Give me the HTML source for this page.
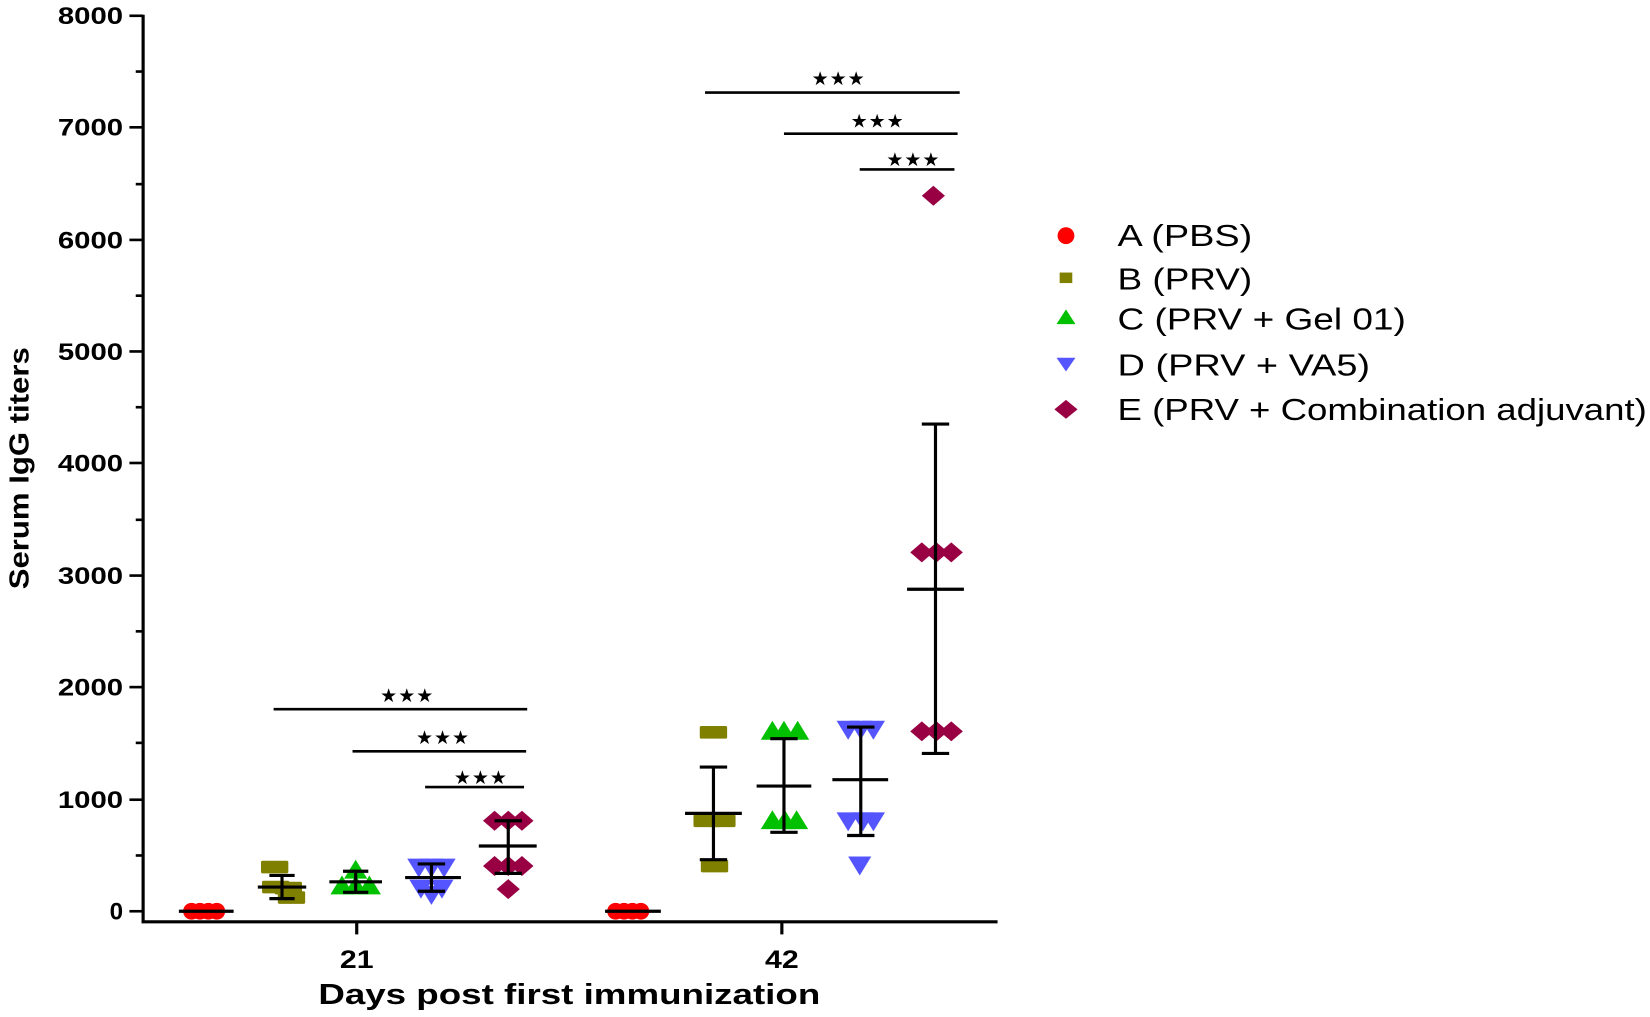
<!DOCTYPE html>
<html><head><meta charset="utf-8"><style>html,body{margin:0;padding:0;background:#fff}svg{display:block}</style></head>
<body>
<svg width="1650" height="1017" viewBox="0 0 1568 966.5" preserveAspectRatio="none" xmlns="http://www.w3.org/2000/svg" font-family="Liberation Sans, Arial, sans-serif">
<defs>
<circle id="ci" r="8" fill="#ff0000"/>
<rect id="sq" x="-13" y="-6" width="26" height="12" rx="1.5" fill="#808000"/>
<polygon id="tu" points="0,-10 11,8 -11,8" fill="#00c000"/>
<polygon id="td" points="0,10 11,-8 -11,-8" fill="#5555ff"/>
<polygon id="di" points="0,-9.5 11,0 0,9.5 -11,0" fill="#990044"/>
</defs>
<g stroke="#000" stroke-width="3" fill="none">
<line x1="136" y1="14" x2="136" y2="877"/>
<line x1="134.5" y1="876" x2="948" y2="876"/>
<line x1="339" y1="876" x2="339" y2="888"/>
<line x1="743" y1="876" x2="743" y2="888"/>
</g>
<g stroke="#000" stroke-width="2.5">
<line x1="123" y1="866" x2="136" y2="866"/><line x1="123" y1="760" x2="136" y2="760"/>
<line x1="123" y1="653" x2="136" y2="653"/><line x1="123" y1="547" x2="136" y2="547"/>
<line x1="123" y1="440" x2="136" y2="440"/><line x1="123" y1="334" x2="136" y2="334"/>
<line x1="123" y1="228" x2="136" y2="228"/><line x1="123" y1="121" x2="136" y2="121"/>
<line x1="123" y1="15" x2="136" y2="15"/>
<line x1="129" y1="813" x2="136" y2="813"/><line x1="129" y1="706" x2="136" y2="706"/>
<line x1="129" y1="600" x2="136" y2="600"/><line x1="129" y1="494" x2="136" y2="494"/>
<line x1="129" y1="387" x2="136" y2="387"/><line x1="129" y1="281" x2="136" y2="281"/>
<line x1="129" y1="175" x2="136" y2="175"/><line x1="129" y1="68" x2="136" y2="68"/>
</g>
<g font-weight="bold" font-size="23" text-anchor="end">
<text x="117" y="874">0</text>
<text x="117" y="768" textLength="62" lengthAdjust="spacingAndGlyphs">1000</text>
<text x="117" y="661" textLength="62" lengthAdjust="spacingAndGlyphs">2000</text>
<text x="117" y="555" textLength="62" lengthAdjust="spacingAndGlyphs">3000</text>
<text x="117" y="448" textLength="62" lengthAdjust="spacingAndGlyphs">4000</text>
<text x="117" y="342" textLength="62" lengthAdjust="spacingAndGlyphs">5000</text>
<text x="117" y="236" textLength="62" lengthAdjust="spacingAndGlyphs">6000</text>
<text x="117" y="129" textLength="62" lengthAdjust="spacingAndGlyphs">7000</text>
<text x="117" y="23" textLength="62" lengthAdjust="spacingAndGlyphs">8000</text>
</g>
<g font-weight="bold" text-anchor="middle">
<text x="339" y="920" font-size="24" textLength="32" lengthAdjust="spacingAndGlyphs">21</text>
<text x="743" y="920" font-size="24" textLength="32" lengthAdjust="spacingAndGlyphs">42</text>
<text x="541" y="954" font-size="27" textLength="477" lengthAdjust="spacingAndGlyphs">Days post first immunization</text>
<text transform="translate(27,445) rotate(-90)" font-size="26" textLength="230" lengthAdjust="spacingAndGlyphs">Serum IgG titers</text>
</g>
<use href="#ci" x="182" y="866"/><use href="#ci" x="190" y="866"/><use href="#ci" x="198" y="866"/><use href="#ci" x="206" y="866"/>
<use href="#sq" x="261" y="824"/><use href="#sq" x="262" y="843"/><use href="#sq" x="274" y="844"/><use href="#sq" x="277" y="853"/>
<use href="#tu" x="338" y="827"/><use href="#tu" x="325" y="842"/><use href="#tu" x="338" y="842"/><use href="#tu" x="351" y="842"/>
<use href="#td" x="398" y="824"/><use href="#td" x="422" y="824"/><use href="#td" x="410" y="824"/><use href="#td" x="400" y="844"/><use href="#td" x="420" y="844"/><use href="#td" x="410" y="850"/>
<use href="#di" x="470" y="780"/><use href="#di" x="483" y="780"/><use href="#di" x="496" y="780"/><use href="#di" x="470" y="823"/><use href="#di" x="483" y="823"/><use href="#di" x="496" y="823"/><use href="#di" x="483" y="845"/>
<use href="#ci" x="585" y="866"/><use href="#ci" x="593" y="866"/><use href="#ci" x="601" y="866"/><use href="#ci" x="609" y="866"/>
<use href="#sq" x="678" y="696"/><use href="#sq" x="672" y="780"/><use href="#sq" x="686" y="780"/><use href="#sq" x="679" y="823"/>
<use href="#tu" x="734" y="695"/><use href="#tu" x="745" y="695"/><use href="#tu" x="758" y="695"/><use href="#tu" x="734" y="780"/><use href="#tu" x="746" y="780"/><use href="#tu" x="757" y="780"/>
<use href="#td" x="806" y="693"/><use href="#td" x="818" y="693"/><use href="#td" x="830" y="693"/><use href="#td" x="806" y="780"/><use href="#td" x="820" y="780"/><use href="#td" x="830" y="780"/><use href="#td" x="817" y="822"/>
<use href="#di" x="876" y="525"/><use href="#di" x="890" y="525"/><use href="#di" x="904" y="525"/><use href="#di" x="876" y="695"/><use href="#di" x="890" y="695"/><use href="#di" x="904" y="695"/><use href="#di" x="887" y="186"/>
<g stroke="#000" stroke-width="3" fill="none">
<line x1="170" y1="866" x2="222" y2="866"/>
<line x1="245" y1="843" x2="291" y2="843"/><line x1="268" y1="832" x2="268" y2="854"/><line x1="256" y1="832" x2="280" y2="832"/><line x1="256" y1="854" x2="280" y2="854"/>
<line x1="313" y1="838" x2="363" y2="838"/><line x1="338" y1="828" x2="338" y2="848"/><line x1="326" y1="828" x2="350" y2="828"/><line x1="326" y1="848" x2="350" y2="848"/>
<line x1="385" y1="834" x2="438" y2="834"/><line x1="410" y1="821" x2="410" y2="847"/><line x1="397" y1="821" x2="423" y2="821"/><line x1="397" y1="847" x2="423" y2="847"/>
<line x1="455" y1="804" x2="510" y2="804"/><line x1="483" y1="780" x2="483" y2="830"/><line x1="470" y1="780" x2="496" y2="780"/><line x1="470" y1="830" x2="496" y2="830"/>
<line x1="575" y1="866" x2="628" y2="866"/>
<line x1="651" y1="773" x2="705" y2="773"/><line x1="678" y1="729" x2="678" y2="817"/><line x1="665" y1="729" x2="691" y2="729"/><line x1="665" y1="817" x2="691" y2="817"/>
<line x1="719" y1="747" x2="771" y2="747"/><line x1="745" y1="702" x2="745" y2="791"/><line x1="732" y1="702" x2="758" y2="702"/><line x1="732" y1="791" x2="758" y2="791"/>
<line x1="791" y1="741" x2="844" y2="741"/><line x1="818" y1="691" x2="818" y2="794"/><line x1="805" y1="691" x2="831" y2="691"/><line x1="805" y1="794" x2="831" y2="794"/>
<line x1="862" y1="560" x2="916" y2="560"/><line x1="889" y1="403" x2="889" y2="716"/><line x1="876" y1="403" x2="902" y2="403"/><line x1="876" y1="716" x2="902" y2="716"/>
</g>
<g stroke="#000" stroke-width="2.5">
<line x1="260" y1="674" x2="501" y2="674"/><line x1="335" y1="714" x2="500" y2="714"/><line x1="404" y1="748" x2="498" y2="748"/>
<line x1="670" y1="88" x2="912" y2="88"/><line x1="745" y1="127" x2="910" y2="127"/><line x1="817" y1="161" x2="907" y2="161"/>
</g>
<g font-size="18" text-anchor="middle" letter-spacing="1">
<text x="387" y="667">★★★</text><text x="421" y="707">★★★</text><text x="457" y="745">★★★</text>
<text x="797" y="81">★★★</text><text x="834" y="121">★★★</text><text x="868" y="158">★★★</text>
</g>
<circle cx="1013" cy="224" r="8" fill="#ff0000"/>
<rect x="1007" y="259" width="12" height="10" fill="#808000"/>
<polygon points="1013,294 1022,308 1004,308" fill="#00c000"/>
<polygon points="1013,353 1022,340 1004,340" fill="#5555ff"/>
<polygon points="1013,380 1024,389 1013,398 1002,389" fill="#990044"/>
<g font-size="29" lengthAdjust="spacingAndGlyphs">
<text x="1062" y="234" textLength="128" lengthAdjust="spacingAndGlyphs">A (PBS)</text>
<text x="1062" y="275" textLength="128" lengthAdjust="spacingAndGlyphs">B (PRV)</text>
<text x="1062" y="313" textLength="274" lengthAdjust="spacingAndGlyphs">C (PRV + Gel 01)</text>
<text x="1062" y="357" textLength="240" lengthAdjust="spacingAndGlyphs">D (PRV + VA5)</text>
<text x="1062" y="399" textLength="503" lengthAdjust="spacingAndGlyphs">E (PRV + Combination adjuvant)</text>
</g>
</svg>
</body></html>
